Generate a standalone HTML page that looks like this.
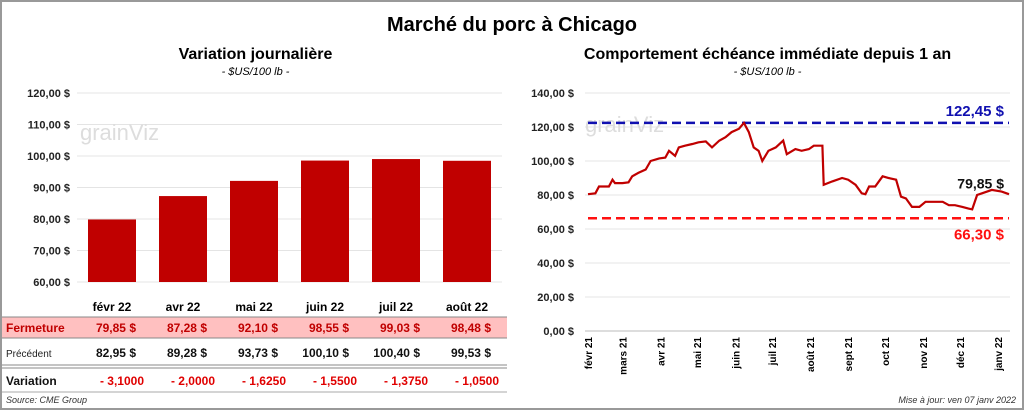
<!DOCTYPE html>
<html><head><meta charset="utf-8"><style>
body{margin:0;width:1024px;height:410px;background:#fff;font-family:"Liberation Sans",sans-serif;overflow:hidden;position:relative}
.t{position:absolute;white-space:nowrap}
</style></head><body>
<div style="position:absolute;left:0;top:0;width:1020px;height:406px;border:2px solid #999"></div>
<div class="t" style="left:0;width:1024px;text-align:center;top:14px;font-size:20px;font-weight:bold">Marché du porc à Chicago</div>
<div class="t" style="left:3px;width:505px;text-align:center;top:46px;font-size:16px;font-weight:bold">Variation journalière</div>
<div class="t" style="left:3px;width:505px;text-align:center;top:66px;font-size:11px;font-style:italic">- $US/100 lb -</div>
<div class="t" style="left:515px;width:505px;text-align:center;top:46px;font-size:16px;font-weight:bold">Comportement échéance immédiate depuis 1 an</div>
<div class="t" style="left:515px;width:505px;text-align:center;top:66px;font-size:11px;font-style:italic">- $US/100 lb -</div>
<svg id="svg" width="1024" height="410" style="position:absolute;left:0;top:0" font-family="Liberation Sans, sans-serif"></svg>
<div class="t" style="left:6px;top:395px;font-size:9px;font-style:italic;color:#333">Source: CME Group</div>
<div class="t" style="right:8px;top:395px;font-size:9px;font-style:italic;color:#333">Mise à jour: ven 07 janv 2022</div>
<script>
const barCats=["févr 22","avr 22","mai 22","juin 22","juil 22","août 22"];
const closeVals=[79.85,87.28,92.10,98.55,99.03,98.48];
const prevVals=[82.95,89.28,93.73,100.10,100.40,99.53];
const varVals=["- 3,1000","- 2,0000","- 1,6250","- 1,5500","- 1,3750","- 1,0500"];
const leftTicks=[60,70,80,90,100,110,120];
const lineDays=[0,6,9,17,20,22,28,33,36,41,47,51,58,63,66,71,74,79,85,90,96,101,107,112,117,123,127,131,135,139,142,147,153,159,162,169,174,180,184,191,192,199,207,212,218,223,226,229,234,240,245,251,255,259,264,270,275,283,289,294,299,305,310,313,317,321,329,337,343];
const lineVals=[80.5,81,85,85,89,87,87,87.5,91,93,95,100,101.5,102,106,103,108,109,110,111,111.5,108,112,114,117,119,122.4,117,108,106,100,106,108,112,104,107,106,107,109,109,86,88,90,89,86,81,80.5,85,85,91,90,89,79,78,73,73,76,76,76,74,74,73,72,71.5,80,81,83,82,80.5];
const rightTicks=[0,20,40,60,80,100,120,140];
const monthLabels=["févr 21","mars 21","avr 21","mai 21","juin 21","juil 21","août 21","sept 21","oct 21","nov 21","déc 21","janv 22"];
const monthDays=[0,28,59,89,120,150,181,212,242,273,303,334];
const maxVal=122.45, minVal=66.30, lastVal=79.85;

const svg=document.getElementById('svg');const NS='http://www.w3.org/2000/svg';
function mk(t,a,txt){const e=document.createElementNS(NS,t);for(const k in a)e.setAttribute(k,a[k]);if(txt!=null)e.textContent=txt;svg.appendChild(e);return e;}
const fmt=v=>v.toFixed(2).replace('.',',');
// left chart
const ly=v=>282-(v-60)*189/60, lx=i=>112+i*71;
leftTicks.forEach(t=>{mk('line',{x1:77,x2:502,y1:ly(t),y2:ly(t),stroke:'#e4e4e4'});
const e=mk('text',{x:70,y:ly(t)+4,'text-anchor':'end','font-size':11,'font-weight':'bold',fill:'#222'},fmt(t)+' $');
});
mk('text',{x:80,y:140,'font-size':22,fill:'#ddd'},'grainViz');
closeVals.forEach((v,i)=>{const r=mk('rect',{x:lx(i)-24,y:ly(v),width:48,height:282-ly(v),fill:'#c00000'});
});
mk('rect',{x:2,y:317,width:505,height:21,fill:'#ffc0c0'});
mk('line',{x1:2,x2:507,y1:317,y2:317,stroke:'#888'});
mk('line',{x1:2,x2:507,y1:338,y2:338,stroke:'#888'});
mk('line',{x1:2,x2:507,y1:365,y2:365,stroke:'#888'});
mk('line',{x1:2,x2:507,y1:368,y2:368,stroke:'#888'});
mk('line',{x1:2,x2:507,y1:392,y2:392,stroke:'#aaa'});
let e=mk('text',{x:6,y:332,'font-size':12,'font-weight':'bold',fill:'#c00000'},'Fermeture');
e=mk('text',{x:6,y:357,'font-size':10,fill:'#222'},'Précédent');
e=mk('text',{x:6,y:385,'font-size':12,'font-weight':'bold',fill:'#111'},'Variation');
barCats.forEach((c,i)=>{const x=lx(i);
let t=mk('text',{x:x,y:311,'text-anchor':'middle','font-size':12,'font-weight':'bold'},c);
t=mk('text',{x:x+24,y:332,'text-anchor':'end','font-size':12,'font-weight':'bold',fill:'#c00000'},fmt(closeVals[i])+'  $');
t=mk('text',{x:x+24,y:357,'text-anchor':'end','font-size':12,'font-weight':'bold',fill:'#111'},fmt(prevVals[i])+'  $');
t=mk('text',{x:x+10,y:385,'text-anchor':'middle','font-size':12,'font-weight':'bold',fill:'#e00000'},varVals[i]);
});
// right chart
const ry=v=>331-v*34/20, rx=d=>588+d*421/343;
rightTicks.forEach(t=>{mk('line',{x1:585,x2:1010,y1:ry(t),y2:ry(t),stroke:t==0?'#bbb':'#e4e4e4'});
const e=mk('text',{x:574,y:ry(t)+4,'text-anchor':'end','font-size':11,'font-weight':'bold',fill:'#222'},fmt(t)+' $');
});
mk('text',{x:585,y:132,'font-size':22,fill:'#ddd'},'grainViz');
monthDays.forEach((d,i)=>{const x=rx(d);const e=mk('text',{x:x+4,y:337,'text-anchor':'end','font-size':10,'font-weight':'bold',transform:`rotate(-90 ${x+4} 337)`},monthLabels[i]);
});
let l=mk('line',{x1:588,x2:1009,y1:ry(maxVal),y2:ry(maxVal),stroke:'#1010b0','stroke-width':2.5,'stroke-dasharray':'9,5'});
l=mk('line',{x1:588,x2:1009,y1:ry(minVal),y2:ry(minVal),stroke:'#ff1010','stroke-width':2.5,'stroke-dasharray':'9,5'});
const p=mk('path',{d:lineVals.map((v,i)=>(i?'L':'M')+rx(lineDays[i]).toFixed(1)+','+ry(v).toFixed(1)).join(''),fill:'none',stroke:'#c00000','stroke-width':2.2});

e=mk('text',{x:1004,y:ry(maxVal)-7,'text-anchor':'end','font-size':15,'font-weight':'bold',fill:'#1010b0'},fmt(maxVal)+' $');
e=mk('text',{x:1004,y:ry(minVal)+21,'text-anchor':'end','font-size':15,'font-weight':'bold',fill:'#ff1010'},fmt(minVal)+' $');
e=mk('text',{x:1004,y:ry(lastVal)-7,'text-anchor':'end','font-size':14,'font-weight':'bold',fill:'#111'},fmt(lastVal)+' $');
</script>
</body></html>
